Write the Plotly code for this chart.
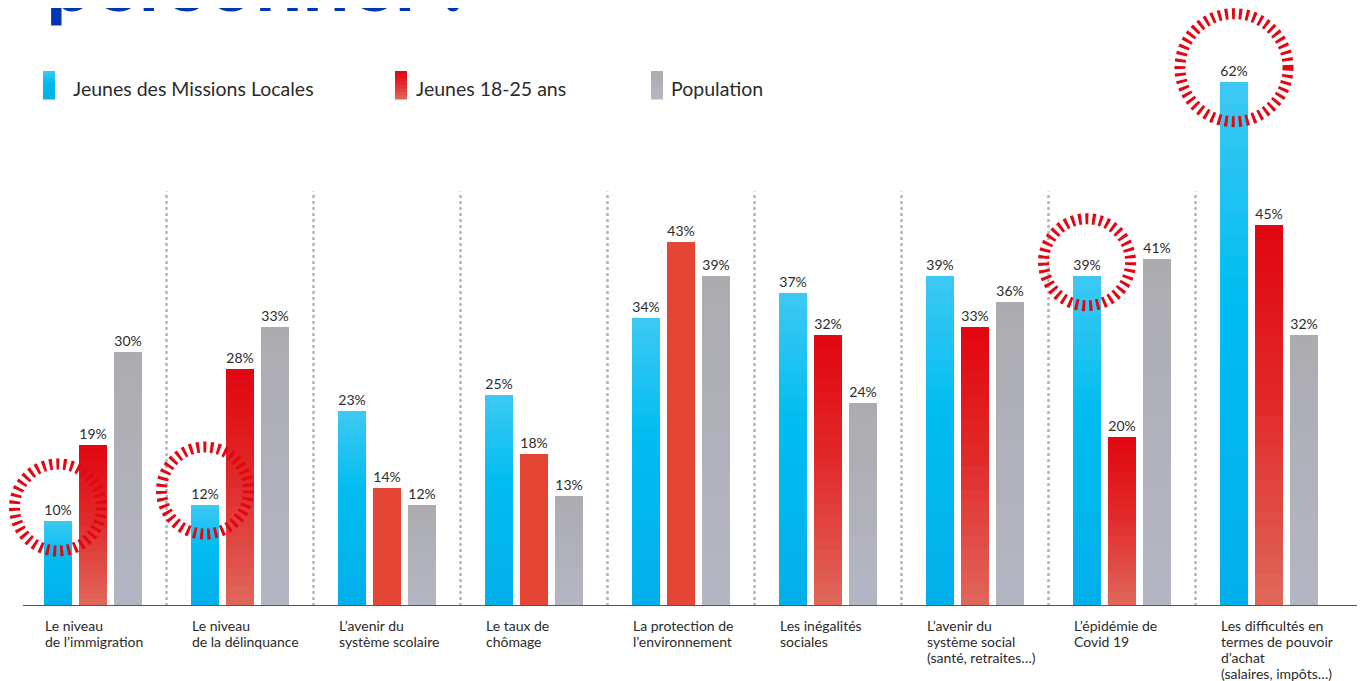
import plotly.graph_objects as go

# ---------------- data ----------------
categories = [
    "Le niveau<br>de l’immigration",
    "Le niveau<br>de la délinquance",
    "L’avenir du<br>système scolaire",
    "Le taux de<br>chômage",
    "La protection de<br>l’environnement",
    "Les inégalités<br>sociales",
    "L’avenir du<br>système social<br>(santé, retraites…)",
    "L’épidémie de<br>Covid 19",
    "Les difficultés en<br>termes de pouvoir<br>d’achat<br>(salaires, impôts…)",
]
series_names = ["Jeunes des Missions Locales", "Jeunes 18-25 ans", "Population"]
missions_locales = [10, 12, 23, 25, 34, 37, 39, 39, 62]
jeunes_18_25 = [19, 28, 14, 18, 43, 32, 33, 20, 45]
population = [30, 33, 12, 13, 39, 24, 36, 41, 32]
highlighted = [0, 1, 7, 8]          # Missions Locales values circled
title_text = "personnel ?"

# ---------------- styling ----------------
SH = 8  # page body margin offset
W, H = 1365, 681
PX_PER_UNIT = 147.0
PX_PER_PCT = 8.457
X0_PAGE = 93          # page x of first category centre
BASE_PAGE = 606       # page y of baseline
ML, MR, MT = 0, 0, 0
MB = H - (BASE_PAGE - SH)
PW, PH = W - ML - MR, H - MT - MB
XR = [(SH + ML - X0_PAGE) / PX_PER_UNIT, (SH + W - X0_PAGE) / PX_PER_UNIT]
YR = [0, PH / PX_PER_PCT]
X_AXIS_START = (23 - X0_PAGE) / PX_PER_UNIT

BAR_W = 0.184
OFFS = [-0.238, 0.0, 0.238]
GRADS = [
    [(0.0, (0x3e, 0xc9, 0xf3)), (0.4, (0x02, 0xbd, 0xf1)), (1.0, (0x03, 0xae, 0xea))],
    [(0.0, (0xe1, 0x06, 0x13)), (0.45, (0xe1, 0x28, 0x28)), (1.0, (0xe0, 0x68, 0x5c))],
    [(0.0, (0xac, 0xac, 0xb0)), (1.0, (0xb4, 0xb6, 0xc4))],
]
SOLID_RED = (0xe4, 0x45, 0x35)
solid_red_idx = {2, 3, 4}
N_SEG = 24
FONT = "Lato"
TXT = "#2b2b2b"


def grad_color(stops, t):
    for (t0, c0), (t1, c1) in zip(stops[:-1], stops[1:]):
        if t0 <= t <= t1:
            f = 0 if t1 == t0 else (t - t0) / (t1 - t0)
            c = [round(a + (b - a) * f) for a, b in zip(c0, c1)]
            return "rgb(%d,%d,%d)" % tuple(c)
    c = stops[-1][1]
    return "rgb(%d,%d,%d)" % c


fig = go.Figure()
xs = list(range(len(categories)))
all_series = [missions_locales, jeunes_18_25, population]

for s, vals in enumerate(all_series):
    for k in range(N_SEG):
        t = 1 - (k + 0.5) / N_SEG
        cols = []
        for i in range(len(vals)):
            if s == 1 and i in solid_red_idx:
                cols.append("rgb(%d,%d,%d)" % SOLID_RED)
            else:
                cols.append(grad_color(GRADS[s], t))
        fig.add_trace(go.Bar(
            x=xs, y=[v / N_SEG for v in vals], base=[v * k / N_SEG for v in vals],
            width=BAR_W, offset=OFFS[s] - BAR_W / 2,
            marker=dict(color=cols, line=dict(width=0)),
            showlegend=False, hoverinfo="skip",
        ))
    fig.add_trace(go.Bar(
        x=xs, y=vals, width=BAR_W, offset=OFFS[s] - BAR_W / 2,
        marker=dict(color="rgba(0,0,0,0)", line=dict(width=0)),
        text=[f"{v}%" for v in vals], textposition="outside",
        textfont=dict(family=FONT, size=14, color=TXT),
        cliponaxis=False, showlegend=False, name=series_names[s],
        hovertemplate="%{y}%<extra>" + series_names[s] + "</extra>",
    ))

shapes = []
# baseline (axis line)
shapes.append(dict(type="line", xref="x", yref="y", x0=X_AXIS_START, x1=XR[1], y0=0, y1=0,
                   line=dict(color="#555555", width=2)))
# dotted separators
for i in range(len(categories) - 1):
    shapes.append(dict(type="line", xref="x", yref="y", x0=i + 0.5, x1=i + 0.5, y0=0, y1=49,
                       line=dict(color="#b5b5b5", width=2.5, dash="dot"), layer="below"))

# dashed highlight rings
for i in highlighted:
    v = missions_locales[i]
    r = 54 if v > 50 else 43.5
    cy = 14
    shapes.append(dict(type="circle", xref="x", yref="y", xsizemode="pixel", ysizemode="pixel",
                       xanchor=i + OFFS[0], yanchor=v,
                       x0=-r, x1=r, y0=cy - r, y1=cy + r,
                       line=dict(color="#e30613", width=11, dash="3px,4px")))


def pxx(p):
    return (p - SH - ML) / PW


def pxy(p):
    return (MT + PH - (p - SH)) / PH


annotations = []
leg_x = [43, 395, 651]
txt_x = [71, 414, 669]
for s in range(3):
    nseg = 8
    for k in range(nseg):
        t = (k + 0.5) / nseg
        col = grad_color(GRADS[s], t)
        shapes.append(dict(type="rect", xref="paper", yref="paper",
                           xsizemode="pixel", ysizemode="pixel",
                           xanchor=pxx(leg_x[s]), yanchor=pxy(71),
                           x0=0, x1=12, y0=-28 * k / nseg, y1=-28 * (k + 1) / nseg - 0.5,
                           fillcolor=col, line=dict(width=0)))
    annotations.append(dict(text=series_names[s], xref="paper", yref="paper",
                            x=pxx(txt_x[s]), y=pxy(88.5), xanchor="left", yanchor="middle",
                            showarrow=False, font=dict(family=FONT, size=19.5, color=TXT)))

for i, c in enumerate(categories):
    for j, line in enumerate(c.split("<br>")):
        annotations.append(dict(text=line, xref="x", yref="paper", x=i + OFFS[0] - BAR_W / 2 - 0.01,
                                y=0, yshift=-9 - 16 * j, xanchor="left", yanchor="top", align="left",
                                showarrow=False, font=dict(family=FONT, size=14, color=TXT)))

annotations.append(dict(text="<b>" + title_text + "</b>", xref="paper", yref="paper",
                        x=pxx(44), y=pxy(-21), xanchor="left", yanchor="middle",
                        showarrow=False, font=dict(family=FONT, size=84, color="#0035b8")))

fig.update_layout(
    width=W, height=H,
    margin=dict(l=ML, r=MR, t=MT, b=MB, pad=0),
    paper_bgcolor="white", plot_bgcolor="white",
    barmode="overlay", bargap=0,
    xaxis=dict(range=XR, showgrid=False, zeroline=False, showticklabels=False, ticks="",
               showline=False, fixedrange=True),
    yaxis=dict(range=YR, showgrid=False, zeroline=False, showticklabels=False, ticks="",
               showline=False, fixedrange=True),
    shapes=shapes, annotations=annotations,
    showlegend=False,
)

fig.write_html("out.html", config={"displayModeBar": False})
